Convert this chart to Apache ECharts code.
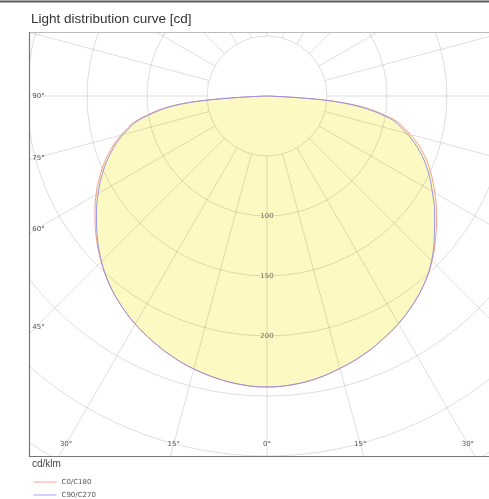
<!DOCTYPE html>
<html>
<head>
<meta charset="utf-8">
<script src="https://cdn.jsdelivr.net/npm/echarts@6/dist/echarts.min.js"></script>
<style>
  html, body { margin: 0; padding: 0; background: #fff; }
  #chart { width: 489px; height: 499px; }
</style>
</head>
<body>
<div id="chart"></div>
<script>
// gamma angles (deg from nadir) and intensities in cd/klm
const gammaDeg = [0, 5, 10, 15, 20, 25, 30, 35, 40, 45, 50, 55, 60, 65, 70, 75, 80, 85, 90];
const c0   = [242.5, 241.5, 239, 235, 230.5, 225, 219, 212, 204, 194.5, 183.5, 172.5, 161.5, 150.5, 138.5, 123.5, 104.5, 63, 0];
const c180 = [242.5, 241.5, 239, 235.5, 231, 225.5, 219.5, 212.5, 204.5, 195.5, 185.5, 175, 164.5, 153, 140.5, 126, 107, 69, 0];
const c90  = [242.5, 241.5, 239, 235, 230.5, 225, 219, 212, 204, 194, 182, 170.5, 159, 148, 135.5, 120.5, 102, 61, 0];
const c270 = [242.5, 241.5, 239, 235.5, 231, 225.5, 219.5, 212.5, 204.5, 195, 184.5, 173.5, 162.5, 151, 138.5, 124, 105, 67, 0];
const ringLabels = [100, 150, 200];
const sideAngleLabels = [90, 75, 60, 45];
const bottomAngleLabels = [-30, -15, 0, 15, 30];
const seriesNames = ['C0/C180', 'C90/C270'];

const CX = 267, CY = 96;
const PX_PER_CD = 1.2;
const OUTER = 431;
const R_MAX = OUTER / PX_PER_CD;
const INNER_CD = 50;
const PLOT_L = 29, PLOT_T = 32, PLOT_B = 456;
const FILL = '#fdf9c3';
const RED = 'rgba(244,150,140,0.9)';
const BLUE = 'rgba(140,140,230,0.9)';
const GRID = 'rgba(0,0,0,0.13)';
const SMALL = '7px "DejaVu Sans"';
const SMOOTH = 0.4;

// right half: angle value 360-g, left half: g  (angle axis starts at nadir, clockwise)
function curve(right, left) {
  const pts = [];
  for (let i = gammaDeg.length - 1; i >= 0; i--) pts.push([right[i], 360 - gammaDeg[i]]);
  for (let i = 1; i < gammaDeg.length; i++) pts.push([left[i], gammaDeg[i]]);
  return pts;
}
const dataC0 = curve(c0, c180);
const dataC90 = curve(c90, c270);

const chart = echarts.init(document.getElementById('chart'));

function label(text, x, y) {
  return { type: 'text', x: x, y: y, z: 60, silent: true,
    style: { text: text, font: SMALL, fill: '#555', align: 'center', verticalAlign: 'middle', textAlign: 'center', textVerticalAlign: 'middle' } };
}
const angleLabelEls = [];
sideAngleLabels.forEach(g => {
  const t = g * Math.PI / 180;
  angleLabelEls.push(label(g + '°', 38.5, CY + (CX - 36) * Math.cos(t) / Math.sin(t)));
});
bottomAngleLabels.forEach(g => {
  angleLabelEls.push(label(Math.abs(g) + '°', CX + (444 - CY) * Math.tan(g * Math.PI / 180), 444));
});

const option = {
  animation: false,
  backgroundColor: '#fff',
  polar: [
    { center: [CX, CY], radius: [INNER_CD * PX_PER_CD, OUTER] },
    { center: [CX, CY], radius: OUTER }
  ],
  angleAxis: [
    { polarIndex: 0, type: 'value', min: 0, max: 360, interval: 15, startAngle: 270, z: 2,
      axisLine: { show: false }, axisTick: { show: false }, axisLabel: { show: false },
      splitLine: { show: true, lineStyle: { color: GRID, width: 1 } } },
    { polarIndex: 1, type: 'value', min: 0, max: 360, startAngle: 270, show: false }
  ],
  radiusAxis: [
    { polarIndex: 0, type: 'value', min: INNER_CD, max: R_MAX, interval: 50, z: 2,
      axisLine: { show: false }, axisTick: { show: false }, axisLabel: { show: false },
      splitLine: { show: true, lineStyle: { color: GRID, width: 1 } } },
    { polarIndex: 1, type: 'value', min: 0, max: R_MAX, show: false }
  ],
  legend: {
    data: [
      { name: seriesNames[0], lineStyle: { color: '#ffa0a0', width: 1 } },
      { name: seriesNames[1], lineStyle: { color: '#a0a0ff', width: 1 } }
    ],
    orient: 'vertical', left: 33, top: 478.5, z: 60, padding: 0,
    itemWidth: 23, itemHeight: 8, itemGap: 6,
    itemStyle: { opacity: 0 },
    textStyle: { fontFamily: 'DejaVu Sans', fontSize: 7, color: '#555' }
  },
  series: [
    { name: 'fillA', type: 'line', coordinateSystem: 'polar', polarIndex: 1, data: dataC0, symbol: 'none', silent: true, z: 1,
      smooth: SMOOTH, lineStyle: { width: 0 }, areaStyle: { color: FILL, opacity: 1 } },
    { name: 'fillB', type: 'line', coordinateSystem: 'polar', polarIndex: 1, data: dataC90, symbol: 'none', silent: true, z: 1,
      smooth: SMOOTH, lineStyle: { width: 0 }, areaStyle: { color: FILL, opacity: 1 } },
    { name: seriesNames[0], type: 'line', coordinateSystem: 'polar', polarIndex: 1, data: dataC0, symbol: 'none', z: 3,
      smooth: SMOOTH, lineStyle: { color: RED, width: 1 }, itemStyle: { color: RED } },
    { name: seriesNames[1], type: 'line', coordinateSystem: 'polar', polarIndex: 1, data: dataC90, symbol: 'none', z: 3,
      smooth: SMOOTH, lineStyle: { color: BLUE, width: 1 }, itemStyle: { color: BLUE } },
    { name: 'rings', type: 'scatter', coordinateSystem: 'polar', polarIndex: 1, z: 4, silent: true,
      data: ringLabels.map(v => [v, 0]), symbolSize: 0,
      label: { show: true, position: 'inside', formatter: p => p.value[0], fontFamily: 'DejaVu Sans', fontSize: 7, color: '#555' } }
  ],
  graphic: [
    { type: 'rect', z: 50, silent: true, shape: { x: 0, y: 0, width: 489, height: PLOT_T }, style: { fill: '#fff' } },
    { type: 'rect', z: 50, silent: true, shape: { x: 0, y: 0, width: PLOT_L, height: 499 }, style: { fill: '#fff' } },
    { type: 'rect', z: 50, silent: true, shape: { x: 0, y: PLOT_B, width: 489, height: 499 - PLOT_B }, style: { fill: '#fff' } },
    { type: 'rect', z: 55, silent: true, shape: { x: 0, y: 0.5, width: 489, height: 2 }, style: { fill: '#5a5a5a' } },
    { type: 'line', z: 55, silent: true, shape: { x1: PLOT_L, y1: PLOT_T + 0.5, x2: 489, y2: PLOT_T + 0.5 }, style: { stroke: '#bbb', lineWidth: 1 } },
    { type: 'line', z: 55, silent: true, shape: { x1: PLOT_L + 0.5, y1: PLOT_T, x2: PLOT_L + 0.5, y2: PLOT_B + 1 }, style: { stroke: '#777', lineWidth: 1.2 } },
    { type: 'line', z: 55, silent: true, shape: { x1: PLOT_L, y1: PLOT_B + 0.5, x2: 489, y2: PLOT_B + 0.5 }, style: { stroke: '#777', lineWidth: 1.2 } },
    { type: 'text', z: 60, x: 31, y: 19, silent: true, style: { text: 'Light distribution curve [cd]', font: '13.5px "Liberation Sans"', fill: '#333',
      verticalAlign: 'middle', textVerticalAlign: 'middle' } },
    { type: 'text', z: 60, x: 32, y: 464, silent: true, style: { text: 'cd/klm', font: '10px "Liberation Sans"', fill: '#444',
      verticalAlign: 'middle', textVerticalAlign: 'middle' } }
  ].concat(angleLabelEls)
};

chart.setOption(option);
</script>
</body>
</html>
